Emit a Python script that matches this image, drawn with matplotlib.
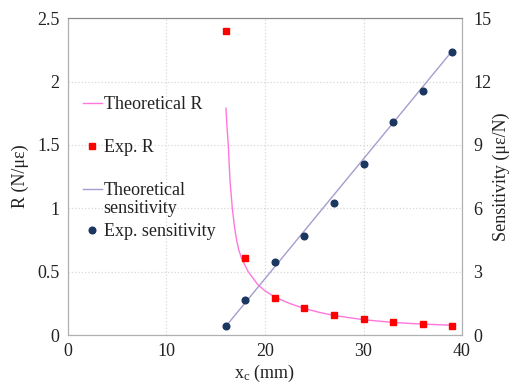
import matplotlib
matplotlib.use('Agg')
import matplotlib.pyplot as plt
from matplotlib.lines import Line2D

plt.rcParams['font.family'] = ['Liberation Serif', 'DejaVu Serif']
plt.rcParams['mathtext.fontset'] = 'custom'
plt.rcParams['mathtext.rm'] = 'Liberation Serif'
plt.rcParams['mathtext.it'] = 'Liberation Serif:italic'

# Data
xc_exp = [16, 18, 21, 24, 27, 30, 33, 36, 39]
r_exp = [2.40, 0.605, 0.29, 0.215, 0.16, 0.126, 0.10, 0.089, 0.076]
sens_exp = [0.43, 1.67, 3.44, 4.67, 6.26, 8.1, 10.1, 11.55, 13.4]

xc_theo_r = [16.04, 16.15, 16.28, 16.45, 16.69, 16.9, 17.12, 17.35, 17.63, 18.3,
             19.26, 20, 21, 22.5, 24, 25.5, 27, 30, 33, 36, 39]
r_theo = [1.79, 1.64, 1.50, 1.22, 1.00, 0.86, 0.75, 0.67, 0.605, 0.50,
          0.40, 0.35, 0.30, 0.25, 0.21, 0.18, 0.155, 0.122, 0.10, 0.087, 0.078]

xc_theo_s = [16, 39]
sens_theo = [0.4, 13.45]

grey = '#b0b0b0'
txt = '#222222'

fig = plt.figure(figsize=(5.18, 3.87), dpi=100)
ax = fig.add_axes([0.131, 0.134, 0.761, 0.819])
ax2 = ax.twinx()

l1, = ax.plot(xc_theo_r, r_theo, color='#ff77dd', lw=1.0, label='Theoretical R')
l2, = ax.plot(xc_exp, r_exp, 's', color='#ff0000', ms=5, label='Exp. R')
l3, = ax2.plot(xc_theo_s, sens_theo, color='#a79bd0', lw=1.0, label='Theoretical')
l4, = ax2.plot(xc_exp, sens_exp, 'o', color='#1b365f', ms=4.8, label='Exp. sensitivity')
blank = Line2D([], [], ls='none', label='sensitivity')

ax.set_xlim(0, 40)
ax.set_ylim(0, 2.5)
ax2.set_ylim(0, 15)
ax.set_xticks([0, 10, 20, 30, 40])
ax.set_yticks([0, 0.5, 1, 1.5, 2, 2.5])
ax.set_yticklabels(['0', '0.5', '1', '1.5', '2', '2.5'])
ax2.set_yticks([0, 3, 6, 9, 12, 15])

ax.grid(True, color='#d8d8d8', ls=':', lw=0.9)
ax.tick_params(length=0, labelsize=13, colors=txt, pad=6)
ax2.tick_params(length=0, labelsize=13, colors=txt, pad=8)
for a in (ax, ax2):
    for s in a.spines.values():
        s.set_color(grey)
ax2.spines['top'].set_color('#888888')

ax.set_xlabel(r'x$_\mathrm{c}$ (mm)', fontsize=13, color=txt, labelpad=2)
ax.set_ylabel('R (N/με)', fontsize=13, color=txt, labelpad=6)
ax2.set_ylabel('Sensitivity (με/N)', fontsize=13, color=txt, labelpad=1)

leg_kw = dict(loc='upper left', frameon=False, fontsize=13, handlelength=1.05,
              handletextpad=0.1, borderpad=0, borderaxespad=0)
leg1 = ax2.legend(handles=[l1, l2, l3], bbox_to_anchor=(0.038, 0.754),
                  labelspacing=1.44, **leg_kw)
for t in leg1.get_texts():
    t.set_color(txt)
ax2.add_artist(leg1)
leg2 = ax2.legend(handles=[blank, l4], bbox_to_anchor=(0.038, 0.426),
                  labelspacing=0.33, **leg_kw)
for t in leg2.get_texts():
    t.set_color(txt)

fig.savefig('out.png', dpi=100)
